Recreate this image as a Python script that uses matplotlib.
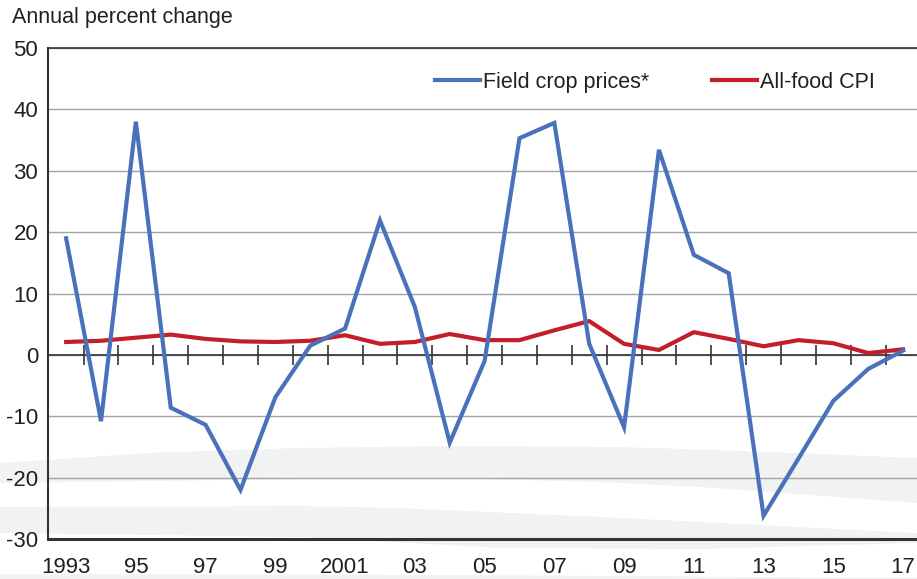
import numpy as np
import matplotlib
matplotlib.use("Agg")
import matplotlib.pyplot as plt

years = list(range(1993, 2018))
field_crop = [19.0, -10.8, 38.0, -8.6, -11.4, -22.0, -6.9, 1.5, 4.3, 21.9, 7.8, -14.3, -1.0,
              35.3, 37.8, 1.8, -11.8, 33.4, 16.3, 13.3, -26.2, -16.9, -7.5, -2.3, 0.7]
food_cpi = [2.1, 2.3, 2.8, 3.3, 2.6, 2.2, 2.1, 2.3, 3.2, 1.8, 2.1, 3.4, 2.4,
            2.4, 4.0, 5.5, 1.8, 0.8, 3.7, 2.6, 1.4, 2.4, 1.9, 0.3, 0.9]
yticks = [50, 40, 30, 20, 10, 0, -10, -20, -30]
xtick_years = list(range(1993, 2018, 2))
xtick_labels = ["1993", "95", "97", "99", "2001", "03", "05", "07", "09", "11", "13", "15", "17"]

plt.rcParams['font.family'] = ['Liberation Sans', 'DejaVu Sans']
TXT = "#231f20"
BLUE = "#4a72ba"
RED = "#c21f2b"

W, H = 917, 579
fig = plt.figure(figsize=(W / 100, H / 100), dpi=100)

# decorative background swooshes
bg = fig.add_axes([0, 0, 1, 1], zorder=-5)
bg.set_xlim(0, W)
bg.set_ylim(H, 0)
bg.axis("off")
xs = np.linspace(0, W, 200)
def curve(pts):
    px, py = zip(*pts)
    return np.interp(xs, px, py)
bandA_top = curve([(0, 463), (150, 453), (300, 448), (450, 446), (617, 447), (717, 450), (917, 458)])
bandA_bot = curve([(0, 483), (300, 479), (450, 478), (600, 482), (717, 488), (917, 503)])
bandB_top = curve([(0, 507), (300, 506), (400, 508), (600, 517), (700, 522), (917, 533)])
bandB_bot = curve([(0, 533), (300, 537), (500, 548), (700, 549), (917, 543)])
bandC_top = curve([(0, 574), (450, 575), (917, 578)])
for t, b in [(bandA_top, bandA_bot), (bandB_top, bandB_bot), (bandC_top, np.full_like(xs, H))]:
    bg.fill_between(xs, t, b, color="#f1f2f2", lw=0)

left, right, top, bottom = 48, 917, 48, 539
ax = fig.add_axes([left / W, 1 - bottom / H, (right - left) / W, (bottom - top) / H])
ax.set_facecolor("none")

ax.set_ylim(-30, 50)
ax.set_xlim(1992.48, 2017.40)
ax.set_yticks(yticks)
ax.set_yticklabels([str(v) for v in yticks])
ax.grid(axis="y", color="#a3a3a3", lw=1.0)
ax.set_axisbelow(True)
ax.set_xticks(xtick_years)
ax.set_xticklabels(xtick_labels)
ax.tick_params(axis="both", length=0, labelsize=16, colors=TXT)
ax.tick_params(axis="x", pad=13)
ax.tick_params(axis="y", pad=7)

ax.spines["right"].set_visible(False)
ax.spines["top"].set_color("#333333")
ax.spines["top"].set_linewidth(1.2)
ax.spines["left"].set_color("#333333")
ax.spines["left"].set_linewidth(1.5)
ax.spines["bottom"].set_color("#333333")
ax.spines["bottom"].set_linewidth(2.2)

# zero line with category boundary ticks
ax.axhline(0, color="#333333", lw=1.2, zorder=2)
bounds = np.array(years[:-1]) + 0.5
ax.plot(bounds, np.zeros_like(bounds), ls="none", marker="|", ms=14, mew=1.2,
        color="#333333", zorder=2)

ax.plot(years, field_crop, color=BLUE, lw=3.0, solid_joinstyle="miter", zorder=4,
        label="Field crop prices*")
ax.plot(years, food_cpi, color=RED, lw=3.0, zorder=3, label="All-food CPI")

leg = ax.legend(loc="upper right", bbox_to_anchor=(0.962, 0.969), ncol=2, frameon=False,
                fontsize=15.5, handlelength=2.1, handletextpad=0.15, columnspacing=2.9,
                borderaxespad=0, labelcolor=TXT)

fig.text(12 / W, 1 - 18 / H, "Annual percent change", fontsize=15.5, color=TXT,
         ha="left", va="center")

fig.savefig("out.png", dpi=100)
